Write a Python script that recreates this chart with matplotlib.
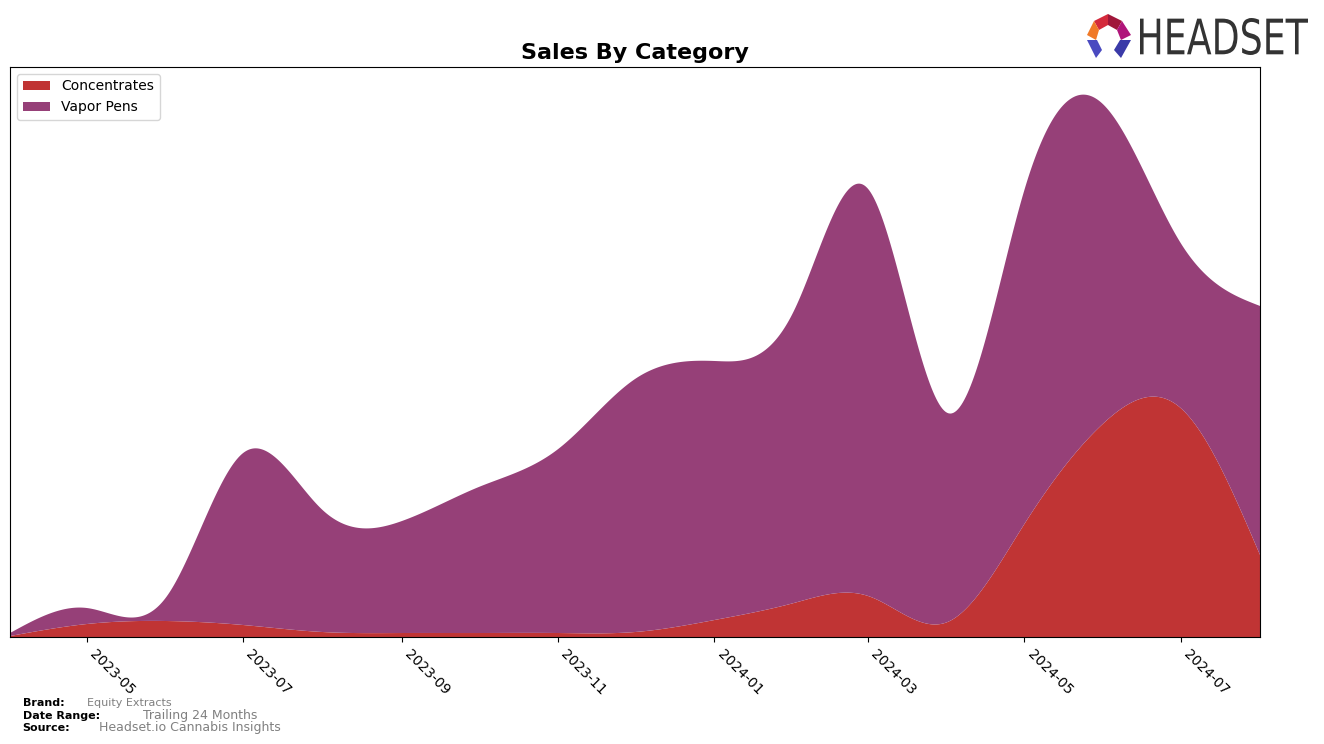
import numpy as np
import pandas as pd
import matplotlib
matplotlib.use("Agg")
import matplotlib.pyplot as plt
import matplotlib.dates as mdates
from matplotlib.textpath import TextPath
from matplotlib.patches import PathPatch, Polygon
from matplotlib.font_manager import FontProperties
from matplotlib.transforms import Affine2D, IdentityTransform

months = pd.date_range("2023-04-01", "2024-08-01", freq="MS")
concentrates = [1, 13, 16, 12, 5, 4, 4, 4, 5, 17, 34, 41, 15, 113, 214, 229, 82]
totals = [4, 29, 40, 184, 127, 116, 150, 188, 258, 276, 326, 448, 224, 447, 532, 394, 331]
vapor_pens = [t - c for t, c in zip(totals, concentrates)]
labels = ["Concentrates", "Vapor Pens"]
colors = ["#C03434", "#964078"]

brand = "Equity Extracts"
date_range = "Trailing 24 Months"
source = "Headset.io Cannabis Insights"


def spline(x, y, xs):
    # natural cubic spline, only used to draw the curve smoothly
    x = np.asarray(x, float)
    y = np.asarray(y, float)
    n = len(x)
    h = np.diff(x)
    A = np.zeros((n, n))
    r = np.zeros(n)
    A[0, 0] = A[-1, -1] = 1
    for i in range(1, n - 1):
        A[i, i - 1] = h[i - 1]
        A[i, i] = 2 * (h[i - 1] + h[i])
        A[i, i + 1] = h[i]
        r[i] = 6 * ((y[i + 1] - y[i]) / h[i] - (y[i] - y[i - 1]) / h[i - 1])
    m = np.linalg.solve(A, r)
    k = np.clip(np.searchsorted(x, xs) - 1, 0, n - 2)
    t = xs - x[k]
    hk = h[k]
    a = (m[k + 1] - m[k]) / (6 * hk)
    b = m[k] / 2
    c = (y[k + 1] - y[k]) / hk - hk * (2 * m[k] + m[k + 1]) / 6
    return y[k] + c * t + b * t ** 2 + a * t ** 3


xnum = mdates.date2num(months)
xs = np.linspace(xnum[0], xnum[-1], 800)
conc_s = np.clip(spline(xnum, concentrates, xs), 0, None)
vape_s = np.clip(spline(xnum, vapor_pens, xs), 0, None)

fig = plt.figure(figsize=(13.24, 7.44), dpi=100)
ax = fig.add_axes([0.0076, 0.1438, 0.9441, 0.7662])
ax.stackplot(mdates.num2date(xs), conc_s, vape_s, labels=labels, colors=colors)
ax.set_xlim(months[0], months[-1])
ax.set_ylim(0, 570)
ax.set_yticks([])
ax.xaxis.set_major_locator(mdates.MonthLocator(bymonth=[1, 3, 5, 7, 9, 11]))
ax.xaxis.set_major_formatter(mdates.DateFormatter("%Y-%m"))
plt.setp(ax.get_xticklabels(), rotation=-45, ha="left", fontsize=10)
ax.set_title("Sales By Category", fontsize=16, fontweight="bold")
ax.legend(loc="upper left", fontsize=10)

# footer
fig.text(0.017, 0.055, "Brand:", fontsize=8, fontweight="bold", va="center")
fig.text(0.066, 0.055, brand, fontsize=8, color="gray", va="center")
fig.text(0.017, 0.037, "Date Range:", fontsize=8, fontweight="bold", va="center")
fig.text(0.108, 0.038, date_range, fontsize=9, color="gray", va="center")
fig.text(0.017, 0.021, "Source:", fontsize=8, fontweight="bold", va="center")
fig.text(0.075, 0.022, source, fontsize=9, color="gray", va="center")

# logo
H = 744
tp = TextPath((0, 0), "HEADSET", size=100, prop=FontProperties(family="DejaVu Sans"))
bb = tp.get_extents()
sx = 168 / bb.width
sy = 37 / bb.height
tr = Affine2D().translate(-bb.x0, -bb.y0).scale(sx, sy).translate(1140, H - 55)
fig.patches.append(PathPatch(tr.transform_path(tp), facecolor="#333333", edgecolor="none",
                             transform=IdentityTransform(), figure=fig))


def poly(pts, color):
    pts = [(px, H - py) for px, py in pts]
    fig.patches.append(Polygon(pts, closed=True, facecolor=color, edgecolor="none",
                               transform=IdentityTransform(), figure=fig))


poly([(1108, 14), (1122, 21), (1117, 30), (1108, 25)], "#A0163A")
poly([(1108, 14), (1094, 21), (1099, 30), (1108, 25)], "#D42A3C")
poly([(1094, 21), (1087, 35), (1096, 40), (1099, 30)], "#F07A28")
poly([(1122, 21), (1131, 35), (1121, 40), (1117, 30)], "#B0157A")
poly([(1087, 40), (1097, 40), (1102, 50), (1096, 58)], "#4A4AC0")
poly([(1131, 40), (1120, 40), (1114, 50), (1121, 58)], "#3A3AA8")

fig.savefig("out.png", dpi=100)
